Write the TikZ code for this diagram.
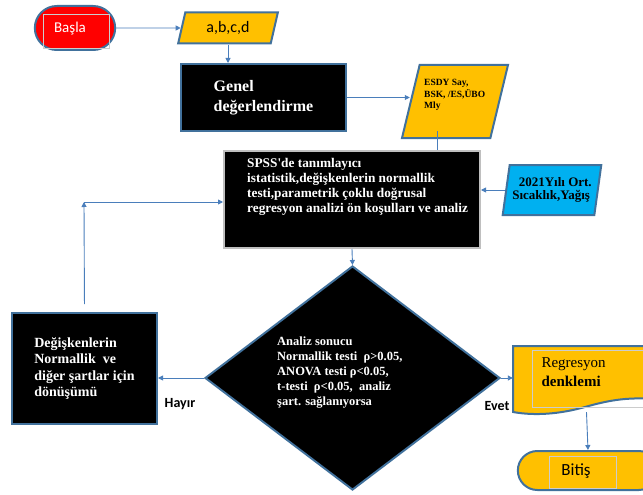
\documentclass[tikz,border=0pt]{standalone}
\usepackage{fontspec}
\setmainfont{Liberation Serif}
\setsansfont{Carlito}
\usetikzlibrary{shapes.geometric,shapes.misc,arrows.meta}
\definecolor{edgeblue}{RGB}{65,113,156}
\definecolor{arrowblue}{RGB}{74,126,187}
\definecolor{gold}{RGB}{255,192,0}
\definecolor{skyfill}{RGB}{0,176,240}
\definecolor{boxgray}{RGB}{191,191,191}

\begin{document}
\begin{tikzpicture}[x=1pt,y=-1pt,
  lnk/.style={draw=arrowblue,line width=0.9pt,-{Triangle[length=5pt,width=5pt]}},
  term/.style={rounded rectangle,draw=edgeblue,line width=2pt,font=\sffamily\fontsize{15}{18}\selectfont},
  para/.style={trapezium,trapezium left angle=76,trapezium right angle=104,trapezium stretches=true,draw=edgeblue,line width=2pt,inner sep=1pt},
  blkbox/.style={rectangle,fill=black,draw=edgeblue,line width=2pt,text=white,align=left},
  lbl/.style={font=\sffamily\bfseries\fontsize{14}{16}\selectfont}]
\useasboundingbox (0,0) rectangle (643,495);
\clip (0,0) rectangle (643,495);
% start and inputs
\node[term,fill=red,minimum width=87,minimum height=44] (start) at (75,28) {};
\draw[gray!40,thin] (43,14) rectangle (109,48);
\node[text=white,font=\sffamily\fontsize{15}{18}\selectfont] (starttxt) at (70,29) {Başla};
\node[para,fill=gold,minimum width=100,minimum height=31,font=\sffamily\fontsize{16}{18}\selectfont] (abcd) at (228,28) {a,b,c,d};
\node[blkbox,minimum width=165,minimum height=67,font=\bfseries\fontsize{16}{20}\selectfont] (genel) at (263.5,97.5) {Genel\\değerlendirme};
\node[para,fill=gold,minimum width=106,minimum height=73] (esdy) at (455,101.5) {};
\node[align=left,anchor=west,inner sep=0,font=\bfseries\fontsize{9.5}{11.5}\selectfont] (esdytxt) at (424,95) {ESDY Say,\\BSK, /ES,ÜBO\\Mly};
\node[para,fill=skyfill,minimum width=99,minimum height=50,align=left,font=\bfseries\fontsize{13}{13}\selectfont] (dat) at (552,190) {\ \ 2021Yılı Ort.\\Sıcaklık,Yağış};
% analysis
\node[blkbox,draw=boxgray,minimum width=256,minimum height=97] (spss) at (352,199.5) {};
\node[anchor=north west,align=left,text=white,inner sep=0,font=\bfseries\fontsize{13.3}{15}\selectfont] (spsstxt) at (247,158) {SPSS\textquotesingle de tanımlayıcı\\istatistik,değişkenlerin normallik\\testi,parametrik çoklu doğrusal\\regresyon analizi ön koşulları ve analiz};
\node[diamond,fill=black,draw=edgeblue,line width=2pt,minimum width=295,minimum height=224] (dia) at (352.5,378) {};
\node[anchor=west,align=left,text=white,inner sep=0,font=\bfseries\fontsize{12.5}{15}\selectfont] (diatxt) at (277,373) {Analiz sonucu\\Normallik testi\ \ ρ>0.05,\\ANOVA testi ρ<0.05,\\t-testi\ \ ρ<0.05,\ \ analiz\\şart. sağlanıyorsa};
\node[blkbox,minimum width=145,minimum height=111,font=\bfseries\fontsize{14}{16.5}\selectfont] (trans) at (84.5,368.5) {Değişkenlerin\\Normallik\ \ ve\\diğer şartlar için\\dönüşümü};
% result
\node[minimum width=147,minimum height=66,inner sep=0] (reg) at (586.5,379) {};
\draw[draw=edgeblue,line width=2pt,fill=gold] (513,346) -- (665,346) -- (665,400) .. controls (630,396) and (610,400) .. (585,407) .. controls (560,414) and (535,416) .. (513,412) -- cycle;
\draw[gray!40,thin] (532,350) rectangle (665,407);
\node[align=left,anchor=west,font=\fontsize{15}{19}\selectfont] (reglbl) at (538,372) {Regresyon\\\textbf{denklemi}};
\node[term,fill=gold,minimum width=147,minimum height=39] (end) at (588,470.5) {};
\draw[gray!40,thin] (549,456) rectangle (616,488);
\node[font=\sffamily\fontsize{17}{20}\selectfont] (endtxt) at (576,471) {Bitiş};
% connectors
\draw[lnk] (start) -- (abcd);
\draw[lnk] (abcd.south) -- (abcd.south |- genel.north);
\draw[lnk] (genel.east) -- (genel.east -| esdy.west);
\draw[draw=arrowblue,line width=0.9pt] ([xshift=-18pt,yshift=8pt]esdy.south) -- ([xshift=-18pt]esdy.south |- spss.north);
\draw[lnk] (dat.west) -- (dat.west -| spss.east);
\draw[lnk] (spss.south) -- (dia.north);
\draw[lnk] (dia.west) -- (dia.west -| trans.east);
\coordinate (turn) at (84,202);
\draw[lnk,shorten <=8pt] (trans.north) -- (turn);
\draw[lnk] (turn) -- (turn -| spss.west);
\draw[lnk] (dia.east) -- (dia.east -| reg.west);
\draw[lnk] (reg.south) -- (end.north);
\node[lbl] (no) at (180,404) {Hayır};
\node[lbl] (yes) at (497,406) {Evet};
\end{tikzpicture}
\end{document}
